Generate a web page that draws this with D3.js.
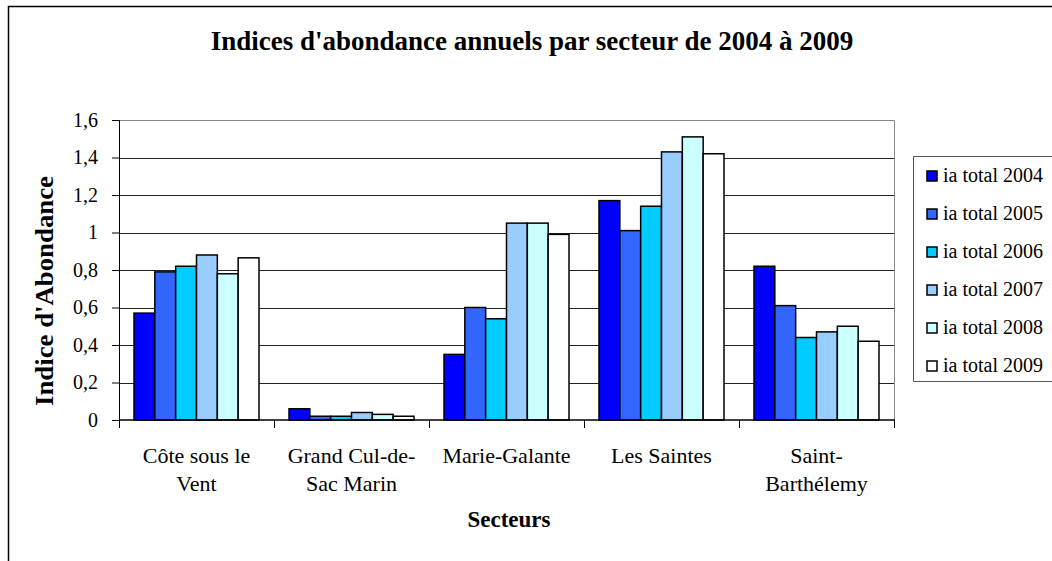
<!DOCTYPE html>
<html>
<head>
<meta charset="utf-8">
<script src="https://cdn.jsdelivr.net/npm/d3@7"></script>
<style>
  body { margin: 0; background: #fff; }
  text { font-family: "Liberation Serif", "DejaVu Serif", serif; fill: #000; }
</style>
</head>
<body>
<div id="chart"></div>
<script>
// data
let secteurs = [["Côte sous le", "Vent"], ["Grand Cul-de-", "Sac Marin"], ["Marie-Galante"], ["Les Saintes"], ["Saint-", "Barthélemy"]];
let annees = ["ia total 2004", "ia total 2005", "ia total 2006", "ia total 2007", "ia total 2008", "ia total 2009"];
let ia2004 = [0.57, 0.06, 0.35, 1.17, 0.82];
let ia2005 = [0.79, 0.02, 0.60, 1.01, 0.61];
let ia2006 = [0.82, 0.02, 0.54, 1.14, 0.44];
let ia2007 = [0.88, 0.04, 1.05, 1.43, 0.47];
let ia2008 = [0.78, 0.03, 1.05, 1.51, 0.50];
let ia2009 = [0.865, 0.02, 0.99, 1.42, 0.42];
let yTicks = [0, 0.2, 0.4, 0.6, 0.8, 1, 1.2, 1.4, 1.6];

let series = [ia2004, ia2005, ia2006, ia2007, ia2008, ia2009];
let colors = ["#0000ff", "#3366ff", "#00ccff", "#99ccff", "#ccffff", "#ffffff"];

let width = 1052, height = 561;
let pLeft = 119, pRight = 894, pTop = 120, pBottom = 420;

let svg = d3.select('#chart').append('svg')
  .attr('width', width)
  .attr('height', height)

// outer frame (top + left only visible)
svg.append('path')
  .attr('d', 'M8.5,' + height + 'V6.5H' + width)
  .attr('fill', 'none')
  .attr('stroke', '#000')
  .attr('stroke-width', 1.5)

let names = secteurs.map(d => d.join(' '));

let x0 = d3.scaleBand()
  .domain(names)
  .range([pLeft, pRight])

let x1 = d3.scaleBand()
  .domain(annees)
  .range([15, x0.bandwidth() - 15])

let y = d3.scaleLinear()
  .domain([0, 1.6])
  .range([pBottom, pTop])

// gridlines
svg.append('g')
  .selectAll('line')
  .data(yTicks.slice(1))
  .enter()
  .append('line')
  .attr('x1', pLeft)
  .attr('x2', pRight)
  .attr('y1', d => Math.round(y(d)) + 0.5)
  .attr('y2', d => Math.round(y(d)) + 0.5)
  .attr('stroke', '#222')

// plot border top/right
svg.append('path')
  .attr('d', 'M' + pLeft + ',' + (pTop + 0.5) + 'H' + (pRight + 0.5) + 'V' + pBottom)
  .attr('fill', 'none')
  .attr('stroke', '#888')

// bars
let groups = svg.append('g')
  .selectAll('g')
  .data(series)
  .enter()
  .append('g')
  .attr('fill', (d, i) => colors[i])

groups.selectAll('rect')
  .data((d, i) => d.map((v, j) => ({ v: v, s: annees[i], c: names[j] })))
  .enter()
  .append('rect')
  .attr('x', d => x0(d.c) + x1(d.s))
  .attr('y', d => y(d.v))
  .attr('width', x1.bandwidth())
  .attr('height', d => pBottom - y(d.v))
  .attr('stroke', '#000')
  .attr('stroke-width', 1.5)

// y axis
let yAxis = svg.append('g')
  .attr('transform', 'translate(' + pLeft + ',0)')
  .call(d3.axisLeft(y).tickValues(yTicks).tickSize(7).tickPadding(14)
    .tickFormat(d => d3.format('.1f')(d).replace('.', ',').replace(/,0$/, '')))
yAxis.select('.domain').attr('stroke', '#000')
yAxis.selectAll('text').attr('font-size', 20).attr('font-family', '"Liberation Serif", serif')

// x axis: ticks on category boundaries
let xAxis = svg.append('g')
  .attr('transform', 'translate(0,' + pBottom + ')')
xAxis.append('line')
  .attr('x1', pLeft)
  .attr('x2', pRight + 1)
  .attr('stroke', '#000')
  .attr('stroke-width', 1.5)
xAxis.selectAll('.tk')
  .data(names.concat(['end']))
  .enter()
  .append('line')
  .attr('x1', (d, i) => Math.round(pLeft + i * x0.bandwidth()) + 0.5)
  .attr('x2', (d, i) => Math.round(pLeft + i * x0.bandwidth()) + 0.5)
  .attr('y2', 8)
  .attr('stroke', '#000')

let lab = svg.append('g')
  .selectAll('text')
  .data(secteurs)
  .enter()
  .append('text')
  .attr('text-anchor', 'middle')
  .attr('font-size', 22)
  .attr('transform', (d, i) => 'translate(' + (x0(names[i]) + x0.bandwidth() / 2) + ',463)')
lab.selectAll('tspan')
  .data(d => d)
  .enter()
  .append('tspan')
  .attr('x', 0)
  .attr('dy', (d, i) => i ? 28 : 0)
  .text(d => d)

// titles
svg.append('text')
  .attr('x', 532)
  .attr('y', 50)
  .attr('text-anchor', 'middle')
  .attr('font-size', 27)
  .attr('font-weight', 'bold')
  .text("Indices d'abondance annuels par secteur de 2004 à 2009")

svg.append('text')
  .attr('x', 509)
  .attr('y', 527)
  .attr('text-anchor', 'middle')
  .attr('font-size', 23)
  .attr('font-weight', 'bold')
  .text('Secteurs')

svg.append('text')
  .attr('transform', 'translate(53,291) rotate(-90)')
  .attr('text-anchor', 'middle')
  .attr('font-size', 25)
  .attr('font-weight', 'bold')
  .attr('textLength', 230)
  .attr('lengthAdjust', 'spacingAndGlyphs')
  .text("Indice d'Abondance")

// legend
let legend = svg.append('g')
legend.append('path')
  .attr('d', 'M' + width + ',156.5H913.5V381.5H' + width)
  .attr('fill', 'none')
  .attr('stroke', '#555')

let items = legend.selectAll('.item')
  .data(annees)
  .enter()
  .append('g')
  .attr('transform', (d, i) => 'translate(927,' + (176 + i * 38) + ')')
items.append('rect')
  .attr('x', 0)
  .attr('y', -5)
  .attr('width', 10)
  .attr('height', 10)
  .attr('fill', (d, i) => colors[i])
  .attr('stroke', '#000')
  .attr('stroke-width', 1.5)
items.append('text')
  .attr('x', 16)
  .attr('y', 6)
  .attr('font-size', 20)
  .text(d => d)
</script>
</body>
</html>
